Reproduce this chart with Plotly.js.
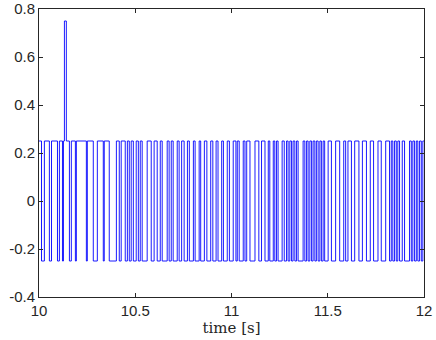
<!DOCTYPE html>
<html>
<head>
<meta charset="utf-8">
<script src="https://cdn.plot.ly/plotly-3.0.1.min.js"></script>
<style>
  html, body { margin: 0; padding: 0; background: #fff; }
  #plot { width: 436px; height: 340px; }
</style>
</head>
<body>
<div id="plot"></div>
<script>
// square wave levels
var highLevel = 0.25;
var lowLevel = -0.25;

// start / end of each high pulse [s]
var highStart = [10.000, 10.028, 10.065, 10.106, 10.127, 10.168, 10.194, 10.251, 10.303, 10.339,
  10.402, 10.427, 10.459, 10.479, 10.505, 10.526, 10.562, 10.598, 10.630, 10.666,
  10.687, 10.718, 10.741, 10.771, 10.802, 10.832, 10.859, 10.892, 10.920, 10.949,
  10.978, 11.009, 11.030, 11.061, 11.079, 11.122, 11.156, 11.191, 11.217, 11.234,
  11.263, 11.286, 11.303, 11.320, 11.338, 11.372, 11.390, 11.407, 11.424, 11.441,
  11.459, 11.476, 11.502, 11.541, 11.583, 11.605, 11.640, 11.680, 11.721, 11.761,
  11.801, 11.830, 11.847, 11.864, 11.887, 11.925, 11.942, 11.960, 11.977, 11.994];
var highEnd = [10.013, 10.054, 10.096, 10.122, 10.158, 10.189, 10.246, 10.282, 10.334, 10.365,
  10.417, 10.448, 10.469, 10.490, 10.516, 10.536, 10.583, 10.614, 10.640, 10.676,
  10.697, 10.728, 10.754, 10.781, 10.811, 10.840, 10.872, 10.903, 10.930, 10.958,
  10.989, 11.023, 11.040, 11.070, 11.096, 11.142, 11.174, 11.199, 11.225, 11.242,
  11.274, 11.294, 11.312, 11.329, 11.346, 11.381, 11.398, 11.416, 11.433, 11.450,
  11.467, 11.484, 11.519, 11.562, 11.593, 11.623, 11.662, 11.701, 11.738, 11.778,
  11.821, 11.838, 11.856, 11.873, 11.899, 11.934, 11.951, 11.968, 11.986, 12.000];

// the one spike
var spikeStart = 10.132;
var spikeEnd = 10.142;
var spikeLevel = 0.75;

var xTicks = [10, 10.5, 11, 11.5, 12];
var xTickText = ["10", "10.5", "11", "11.5", "12"];
var yTicks = [-0.4, -0.2, 0, 0.2, 0.4, 0.6, 0.8];
var yTickText = ["-0.4", "-0.2", "0", "0.2", "0.4", "0.6", "0.8"];

// build step series
var xs = [];
var ys = [];
for (var k = 0; k < highStart.length; k++) {
  xs.push(highStart[k]); ys.push(highLevel);
  if (spikeStart > highStart[k] && spikeEnd < highEnd[k]) {
    xs.push(spikeStart); ys.push(spikeLevel);
    xs.push(spikeEnd); ys.push(highLevel);
  }
  if (highEnd[k] < 12) {
    xs.push(highEnd[k]); ys.push(lowLevel);
  } else {
    xs.push(highEnd[k]); ys.push(highLevel);
  }
}

var data = [{
  x: xs,
  y: ys,
  type: "scatter",
  mode: "lines",
  line: {shape: "hv", color: "rgb(0,0,255)", width: 0.9},
  hoverinfo: "skip"
}];

var axisCommon = {
  showline: true,
  linecolor: "#262626",
  linewidth: 1,
  mirror: "ticks",
  ticks: "inside",
  ticklen: 4,
  tickcolor: "#262626",
  showgrid: false,
  zeroline: false,
  tickfont: {family: "Liberation Sans, Arial, sans-serif", size: 15, color: "#262626"}
};

var layout = {
  width: 436,
  height: 340,
  margin: {l: 39, r: 12, t: 9, b: 43},
  paper_bgcolor: "#fff",
  plot_bgcolor: "#fff",
  showlegend: false,
  xaxis: Object.assign({}, axisCommon, {
    range: [10, 12],
    tickvals: xTicks,
    ticktext: xTickText,
    title: {text: "time [s]", standoff: 0,
            font: {family: "DejaVu Serif, Liberation Serif, serif", size: 15, color: "#262626"}}
  }),
  yaxis: Object.assign({}, axisCommon, {
    range: [-0.4, 0.8],
    tickvals: yTicks,
    ticktext: yTickText
  })
};

Plotly.newPlot("plot", data, layout, {staticPlot: true, displayModeBar: false});
</script>
</body>
</html>
